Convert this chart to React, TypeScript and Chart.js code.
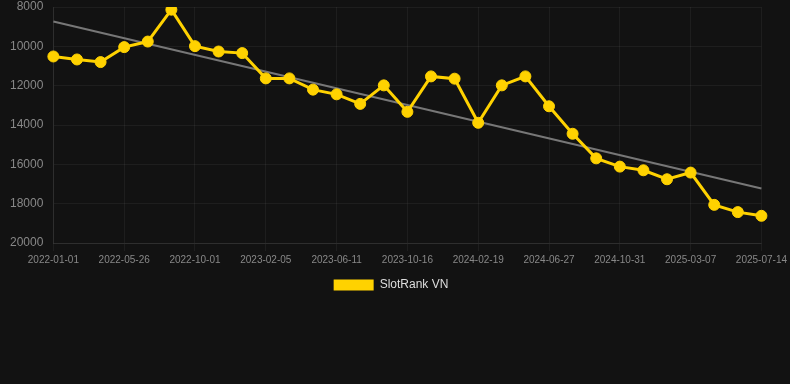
import React, { useEffect, useRef } from "react";
import { Chart, registerables } from "chart.js";

Chart.register(...registerables);

const labels: string[] = [
  "2022-01-01", "2022-02-18", "2022-04-08",
  "2022-05-26", "2022-07-08", "2022-08-19",
  "2022-10-01", "2022-11-12", "2022-12-25",
  "2023-02-05", "2023-03-19", "2023-04-30",
  "2023-06-11", "2023-07-23", "2023-09-03",
  "2023-10-16", "2023-11-27", "2024-01-08",
  "2024-02-19", "2024-04-02", "2024-05-15",
  "2024-06-27", "2024-08-08", "2024-09-19",
  "2024-10-31", "2024-12-12", "2025-01-24",
  "2025-03-07", "2025-04-19", "2025-05-31",
  "2025-07-14",
];

const rankValues: number[] = [
  10516, 10668, 10800, 10040, 9757, 8137, 9990, 10263, 10344, 11630,
  11630, 12202, 12440, 12926, 11985, 13331, 11529, 11645, 13888, 11985,
  11529, 13048, 14445, 15696, 16116, 16303, 16759, 16420, 18060, 18430,
  18617,
];

const trendStart = 8740;
const trendEnd = 17230;

const yTicks: number[] = [8000, 10000, 12000, 14000, 16000, 18000, 20000];

export default function App() {
  const canvasRef = useRef<HTMLCanvasElement | null>(null);

  useEffect(() => {
    if (!canvasRef.current) return;
    const trendData: (number | null)[] = labels.map(() => null);
    trendData[0] = trendStart;
    trendData[labels.length - 1] = trendEnd;
    const gridColor = "rgba(255,255,255,0.05)";

    const chart = new Chart(canvasRef.current, {
      type: "line",
      data: {
        labels,
        datasets: [
          {
            label: "SlotRank VN",
            data: rankValues,
            borderColor: "#FFD200",
            backgroundColor: "#FFD200",
            borderWidth: 3,
            pointRadius: 5.5,
            pointBackgroundColor: "#FFD200",
            pointBorderColor: "#FFD200",
            pointBorderWidth: 1,
            tension: 0,
            order: 1,
          },
          {
            label: "trend",
            data: trendData,
            borderColor: "#777777",
            backgroundColor: "#777777",
            borderWidth: 2,
            pointRadius: 0,
            spanGaps: true,
            order: 2,
          },
        ],
      },
      options: {
        animation: false,
        responsive: true,
        maintainAspectRatio: false,
        layout: { autoPadding: false, padding: { left: 0, right: 8, top: 0, bottom: 0 } },
        plugins: {
          legend: {
            position: "bottom",
            labels: {
              color: "#dddddd",
              font: { size: 12, family: "Liberation Sans, Arial, sans-serif" },
              boxWidth: 40,
              boxHeight: 11,
              padding: 10,
              filter: (item) => item.text !== "trend",
              generateLabels: (c) =>
                Chart.defaults.plugins.legend.labels
                  .generateLabels(c)
                  .map((it) => ({ ...it, lineWidth: 0 })),
            },
          },
          tooltip: { enabled: false },
        },
        scales: {
          x: {
            grid: {
              color: (ctx) => (ctx.index % 3 === 0 ? gridColor : "transparent"),
              tickColor: (ctx) => (ctx.index % 3 === 0 ? gridColor : "transparent"),
              drawTicks: true,
              tickLength: 8,
            },
            border: { color: "rgba(255,255,255,0.08)" },
            ticks: {
              color: "#888888",
              font: { size: 10, family: "Liberation Sans, Arial, sans-serif" },
              padding: 3,
              maxRotation: 0,
              autoSkip: false,
              callback: (_v, i) => (i % 3 === 0 ? labels[i] : ""),
            },
          },
          y: {
            reverse: true,
            min: yTicks[0],
            max: yTicks[yTicks.length - 1],
            grid: { color: gridColor, drawTicks: true, tickLength: 10, tickColor: "transparent" },
            border: { color: "rgba(255,255,255,0.08)" },
            ticks: {
              stepSize: 2000,
              color: "#888888",
              font: { size: 12, family: "Liberation Sans, Arial, sans-serif" },
              padding: 0,
              callback: (v) => String(v),
            },
            afterFit: (scale: any) => {
              scale.width += 10;
              scale.paddingTop = 7;
            },
          },
        },
      },
    });
    return () => chart.destroy();
  }, []);

  return (
    <div style={{ position: "fixed", left: 0, top: 0, width: 790, height: 384, background: "#121212" }}>
      <div style={{ position: "relative", width: 790, height: 301 }}>
        <canvas ref={canvasRef} />
      </div>
    </div>
  );
}
